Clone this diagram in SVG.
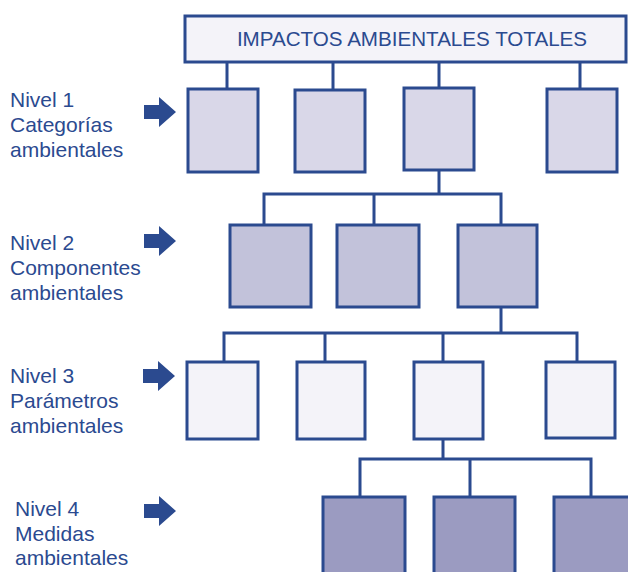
<svg xmlns="http://www.w3.org/2000/svg" width="628" height="572" viewBox="0 0 628 572">
<style>
text{font-family:"Liberation Sans",Arial,sans-serif;fill:#2b4a90;font-size:21px}
.t{font-size:20.6px}
.b{stroke:#2b4a8f;stroke-width:3}
.l0{fill:#f4f3f9}.l1{fill:#d9d7e8}.l2{fill:#c2c2da}.l3{fill:#f4f3f9}.l4{fill:#9b9bc1}
.c{fill:none;stroke:#2b4a8f;stroke-width:3}
.ar{fill:#2b4a8f}
</style>
<defs>
<path id="arrow" d="M0,-7 H15 V-15 L32,0 L15,15 V7 H0 Z"/>
</defs>
<rect width="628" height="572" fill="#fff"/>
<g id="connectors">
<path class="c" d="M227,62V89M333,62V89M439,62V88M580,62V89"/>
<path class="c" d="M439,170V194M264,225V194H501V225M374,194V225"/>
<path class="c" d="M501,307V333M224,362V333H577V362M325,333V362M443,333V362"/>
<path class="c" d="M443,439V459M360,497V459H591V497M470,459V497"/>
</g>
<g id="root"><rect class="b l0" x="185" y="16" width="441" height="46"/><text class="t" x="412" y="46" text-anchor="middle">IMPACTOS AMBIENTALES TOTALES</text></g>
<g id="n1a"><rect class="b l1" x="188" y="89" width="70" height="83"/></g>
<g id="n1b"><rect class="b l1" x="295" y="90" width="70" height="82"/></g>
<g id="n1c"><rect class="b l1" x="404" y="88" width="70" height="82"/></g>
<g id="n1d"><rect class="b l1" x="547" y="89" width="70" height="83"/></g>
<g id="n2a"><rect class="b l2" x="230" y="225" width="81" height="82"/></g>
<g id="n2b"><rect class="b l2" x="337" y="225" width="82" height="82"/></g>
<g id="n2c"><rect class="b l2" x="458" y="225" width="79" height="82"/></g>
<g id="n3a"><rect class="b l3" x="187" y="362" width="71" height="77"/></g>
<g id="n3b"><rect class="b l3" x="297" y="362" width="68" height="77"/></g>
<g id="n3c"><rect class="b l3" x="414" y="362" width="69" height="77"/></g>
<g id="n3d"><rect class="b l3" x="546" y="362" width="69" height="76"/></g>
<g id="n4a"><rect class="b l4" x="323" y="497" width="82" height="80"/></g>
<g id="n4b"><rect class="b l4" x="434" y="497" width="81" height="80"/></g>
<g id="n4c"><rect class="b l4" x="554" y="497" width="80" height="80"/></g>
<g id="label1"><text x="10" y="107">Nivel 1</text><text x="10" y="132">Categorías</text><text x="10" y="157">ambientales</text><use href="#arrow" class="ar" x="144" y="112"/></g>
<g id="label2"><text x="10" y="250">Nivel 2</text><text x="10" y="275">Componentes</text><text x="10" y="300">ambientales</text><use href="#arrow" class="ar" x="144" y="241"/></g>
<g id="label3"><text x="10" y="383">Nivel 3</text><text x="10" y="408">Parámetros</text><text x="10" y="433">ambientales</text><use href="#arrow" class="ar" x="143" y="376"/></g>
<g id="label4"><text x="15" y="516">Nivel 4</text><text x="15" y="541">Medidas</text><text x="15" y="565">ambientales</text><use href="#arrow" class="ar" x="144" y="511"/></g>
</svg>
